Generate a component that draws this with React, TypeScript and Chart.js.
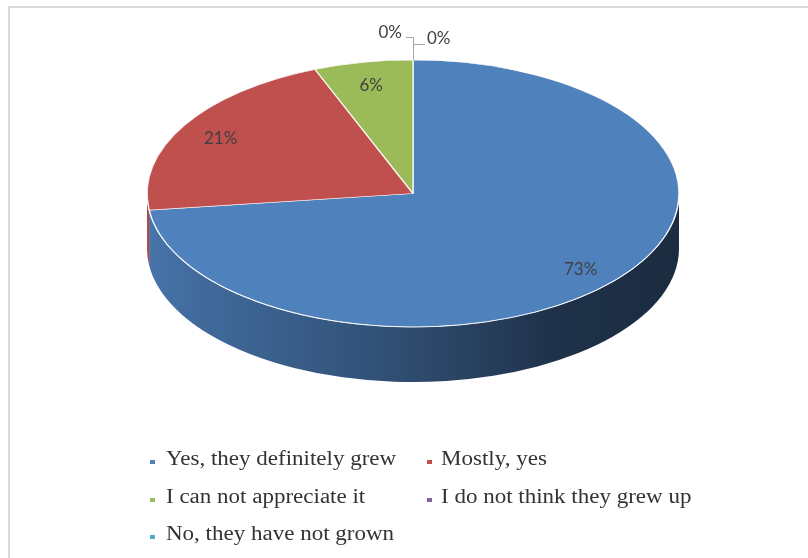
import React, { useEffect, useRef } from "react";
import { Chart, registerables } from "chart.js";

Chart.register(...registerables);

// ---------- data ----------
const categories = [
  "Yes, they definitely grew",
  "Mostly, yes",
  "I can not appreciate it",
  "I do not think they grew up",
  "No, they have not grown",
];
const shares = [73, 21, 6, 0, 0];
const topColors = ["#4F81BD", "#C0504D", "#9BBB59", "#8064A2", "#4BACC6"];

// ---------- layout / style ----------
const PIE = { cx: 413, cy: 193.5, rx: 266, ry: 133.5, depth: 55 };
const SIDE_POS = [0, 0.1, 0.25, 0.48, 0.63, 0.76, 1];
const SIDE_F = [0.9, 0.82, 0.74, 0.6, 0.49, 0.39, 0.34];
const LABEL_FRAC = 0.84;
const LEGEND_SQ_X = [150, 426.5];
const LEGEND_TX_X = [166, 441];
const LEGEND_BASE = [465, 503, 540];

function shade(hex: string, f: number) {
  const n = parseInt(hex.slice(1), 16);
  const r = Math.round(((n >> 16) & 255) * f);
  const g = Math.round(((n >> 8) & 255) * f);
  const b = Math.round((n & 255) * f);
  return `rgb(${r},${g},${b})`;
}

const pie3d = {
  id: "pie3d",
  beforeDatasetsDraw(chart: any) {
    const ctx: CanvasRenderingContext2D = chart.ctx;
    const arcs = chart.getDatasetMeta(0).data as any[];
    if (!arcs.length) return;
    const { cx, cy, rx, ry, depth } = PIE;
    arcs.forEach((arc, i) => {
      const a1 = arc.startAngle;
      const a2 = arc.endAngle;
      if (a2 - a1 <= 0) return;
      const grad = ctx.createLinearGradient(cx - rx, 0, cx + rx, 0);
      SIDE_POS.forEach((p, k) => grad.addColorStop(p, shade(topColors[i], SIDE_F[k])));
      for (let k = -1; k <= 1; k++) {
        const lo = Math.max(a1, 2 * Math.PI * k);
        const hi = Math.min(a2, 2 * Math.PI * k + Math.PI);
        if (hi <= lo) continue;
        ctx.beginPath();
        ctx.ellipse(cx, cy, rx, ry, 0, lo, hi, false);
        ctx.ellipse(cx, cy + depth, rx, ry, 0, hi, lo, true);
        ctx.closePath();
        ctx.fillStyle = grad;
        ctx.fill();
      }
    });
    const r = arcs[0].outerRadius;
    const ox = arcs[0].x;
    const oy = arcs[0].y;
    ctx.save();
    ctx.translate(cx, cy);
    ctx.scale(rx / r, ry / r);
    ctx.translate(-ox, -oy);
  },
  afterDatasetsDraw(chart: any) {
    const ctx: CanvasRenderingContext2D = chart.ctx;
    ctx.restore();
    const arcs = chart.getDatasetMeta(0).data as any[];
    const { cx, cy, rx, ry } = PIE;
    // rim highlight
    ctx.save();
    ctx.beginPath();
    ctx.ellipse(cx, cy, rx, ry, 0, 0.01, Math.PI - 0.01);
    ctx.strokeStyle = "rgba(255,255,255,0.75)";
    ctx.lineWidth = 1;
    ctx.stroke();
    ctx.restore();

    const values = chart.data.datasets[0].data as number[];
    const total = values.reduce((a, b) => a + b, 0);
    ctx.save();
    ctx.font = "17px Lato, 'Open Sans', sans-serif";
    ctx.fillStyle = "#404040";
    ctx.textBaseline = "middle";
    let zeroCount = 0;
    arcs.forEach((arc, i) => {
      const v = values[i];
      const txt = Math.round((v / total) * 100) + "%";
      if (v > 0) {
        const mid = (arc.startAngle + arc.endAngle) / 2;
        const x = cx + LABEL_FRAC * rx * Math.cos(mid);
        const y = cy + LABEL_FRAC * ry * Math.sin(mid) + 2;
        ctx.textAlign = "center";
        ctx.fillText(txt, x, y);
      } else {
        const a = arc.startAngle;
        const px = cx + rx * Math.cos(a);
        const py = cy + ry * Math.sin(a);
        ctx.strokeStyle = "#a6a6a6";
        ctx.lineWidth = 1;
        ctx.beginPath();
        if (zeroCount === 0) {
          ctx.moveTo(px + 0.5, py);
          ctx.lineTo(px + 0.5, py - 22.5);
          ctx.lineTo(px - 7, py - 22.5);
          ctx.stroke();
          ctx.textAlign = "right";
          ctx.fillText(txt, px - 11, py - 27);
        } else {
          ctx.moveTo(px + 0.5, py - 15.5);
          ctx.lineTo(px + 12, py - 15.5);
          ctx.stroke();
          ctx.textAlign = "left";
          ctx.fillText(txt, px + 14, py - 21);
        }
        zeroCount++;
      }
    });
    ctx.restore();
  },
};

export default function App() {
  const ref = useRef<HTMLCanvasElement>(null);
  useEffect(() => {
    const canvas = ref.current!;
    const chart = new Chart(canvas, {
      type: "pie",
      data: {
        labels: categories,
        datasets: [
          {
            data: shares,
            backgroundColor: topColors,
            borderColor: "rgba(255,255,255,0.85)",
            borderWidth: 1.5,
            clip: false,
          } as any,
        ],
      },
      options: {
        responsive: false,
        animation: false,
        devicePixelRatio: 1,
        events: [],
        plugins: { legend: { display: false }, tooltip: { enabled: false } },
      },
      plugins: [pie3d as any],
    });
    return () => chart.destroy();
  }, []);

  return (
    <div
      style={{
        position: "fixed",
        left: 0,
        top: 0,
        width: 808,
        height: 558,
        background: "#fff",
        overflow: "hidden",
      }}
    >
      <canvas
        ref={ref}
        width={808}
        height={558}
        style={{ position: "absolute", left: 0, top: 0, width: 808, height: 558 }}
      />
      <div
        style={{
          position: "absolute",
          left: 8,
          top: 6,
          width: 830,
          height: 580,
          border: "2px solid #d9d9d9",
          boxSizing: "border-box",
          pointerEvents: "none",
        }}
      />
      {categories.map((c, i) => {
        const row = Math.floor(i / 2);
        const col = i % 2;
        const base = LEGEND_BASE[row];
        return (
          <React.Fragment key={c}>
            <div
              style={{
                position: "absolute",
                left: LEGEND_SQ_X[col],
                top: base - 5,
                width: 5,
                height: 4,
                background: topColors[i],
              }}
            />
            <div
              style={{
                position: "absolute",
                left: LEGEND_TX_X[col],
                top: base - 16.75,
                height: 20,
                lineHeight: "20px",
                fontSize: 20,
                fontFamily: "'Liberation Serif', 'Times New Roman', serif",
                color: "#333333",
                whiteSpace: "nowrap",
                transform: "scaleX(1.15)",
                transformOrigin: "left center",
              }}
            >
              {c}
            </div>
          </React.Fragment>
        );
      })}
    </div>
  );
}
